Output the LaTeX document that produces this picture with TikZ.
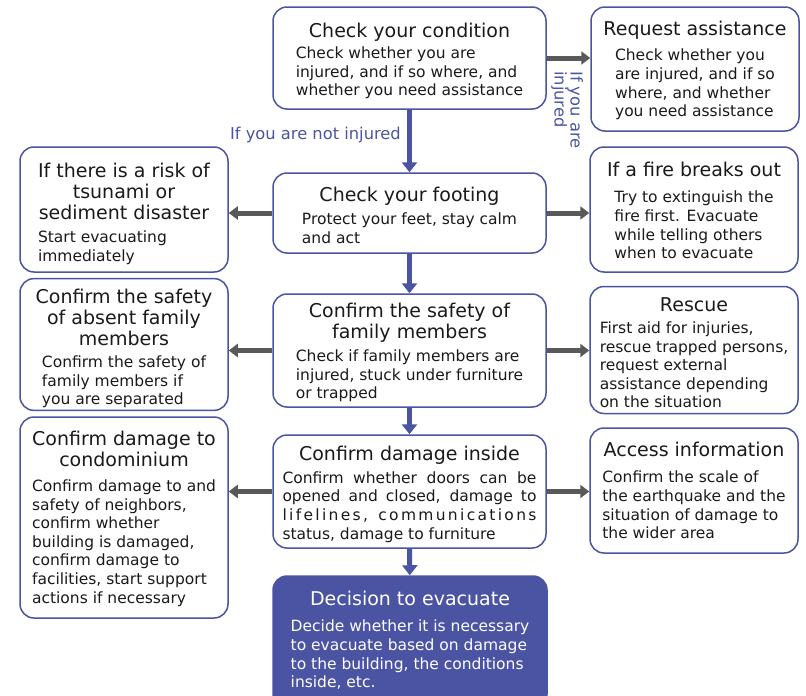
\documentclass[tikz,border=0pt]{standalone}
\usepackage{fontspec}
\setmainfont{DejaVu Sans}
\usetikzlibrary{arrows.meta}

\definecolor{flowblue}{HTML}{4A54A3}
\definecolor{arrowgray}{HTML}{595959}
\definecolor{textblack}{HTML}{1A1A1A}

\newcommand{\titlefont}{\fontsize{19}{21}\selectfont}
\newcommand{\bodyfont}{\fontsize{15.5}{18.6}\selectfont}
\newcommand{\boxtitle}[1]{{\titlefont\begin{tabular}{@{}c@{}}#1\end{tabular}}}
\newcommand{\boxbody}[1]{{\bodyfont\begin{tabular}{@{}l@{}}#1\end{tabular}}}
% #1 top pad, #2 title, #3 gap title/body, #4 body
\newcommand{\stepcontent}[4]{\boxtitle{\rule{0pt}{\dimexpr14.7pt+#1pt\relax}#2}\\[#3pt]\boxbody{#4}}

\tikzset{
  stepnode/.style={draw=flowblue, line width=1.5pt, rounded corners=14pt, fill=white,
    text=textblack, align=center, inner sep=0pt},
  mainbox/.style={stepnode, minimum width=273pt},
  sidebox/.style={stepnode, minimum width=208pt},
  flowarrow/.style={draw=flowblue, line width=5pt, -{Triangle[length=10pt,width=15pt]}},
  sidearrow/.style={draw=arrowgray, line width=5pt, -{Triangle[length=9pt,width=13pt]}},
  branchlabel/.style={text=flowblue, font=\fontsize{16.3}{18}\selectfont, inner sep=0pt}
}

\begin{document}
\begin{tikzpicture}[x=1pt, y=-1pt]

	\clip (0,0) rectangle (806,696);

	% centre column
	\node[mainbox, minimum height=102pt] (cond) at (409.5,58)
		{\stepcontent{8}{Check your condition}{1}
		 {Check whether you are\\injured, and if so where, and\\whether you need assistance}};
	\node[mainbox, minimum height=80pt] (foot) at (409.5,213)
		{\stepcontent{9.5}{Check your footing}{2.5}
		 {Protect your feet, stay calm\\and act}};
	\node[mainbox, minimum height=113pt] (family) at (409.5,350.5)
		{\stepcontent{6}{Confirm the safety of\\family members}{3}
		 {Check if family members are\\injured, stuck under furniture\\or trapped}};
	\node[mainbox, minimum height=113pt] (inside) at (409.5,491.5)
		{\stepcontent{7}{Confirm damage inside}{3}
		 {\makebox[254pt][s]{Confirm whether doors can be}\\
		  \makebox[254pt][s]{opened and closed, damage to}\\
		  \makebox[254pt][s]{\addfontfeatures{LetterSpace=15}lifelines, communications}\\
		  status, damage to furniture}};
	\node[mainbox, minimum width=274pt, minimum height=132pt, fill=flowblue, text=white] (evac) at (410,642)
		{\stepcontent{0}{Decision to evacuate}{6}
		 {Decide whether it is necessary\\to evacuate based on damage\\to the building, the conditions\\inside, etc.}};

	% left column
	\node[sidebox, minimum height=125pt] (tsunami) at (124,209.5)
		{\stepcontent{10}{If there is a risk of\\tsunami or\\sediment disaster}{3}
		 {\makebox[172pt][l]{Start evacuating}\\immediately}};
	\node[sidebox, minimum height=129pt] (absent) at (124,344.5)
		{\stepcontent{10}{Confirm the safety\\of absent family\\members}{2}
		 {Confirm the safety of\\family members if\\you are separated}};
	\node[sidebox, minimum height=201pt] (condo) at (124,517.5)
		{\stepcontent{4.5}{Confirm damage to\\condominium}{4.5}
		 {Confirm damage to and\\safety of neighbors,\\confirm whether\\building is damaged,\\confirm damage to\\facilities, start support\\actions if necessary}};

	% right column
	\node[sidebox, minimum height=124pt] (request) at (695,69)
		{\stepcontent{5}{Request assistance}{5}
		 {Check whether you\\are injured, and if so\\where, and whether\\you need assistance}};
	\node[sidebox, minimum height=125pt] (fire) at (694,209.5)
		{\stepcontent{6.5}{If a fire breaks out}{6.5}
		 {Try to extinguish the\\fire first. Evacuate\\while telling others\\when to evacuate}};
	\node[sidebox, minimum height=126pt] (rescue) at (694,350)
		{\stepcontent{10}{Rescue}{2}
		 {First aid for injuries,\\rescue trapped persons,\\request external\\assistance depending\\on the situation}};
	\node[sidebox, minimum height=125pt] (info) at (694,490.5)
		{\stepcontent{4.5}{Access information}{6.5}
		 {Confirm the scale of\\the earthquake and the\\situation of damage to\\the wider area}};

	% main flow
	\draw[flowarrow] (cond) -- (foot);
	\draw[flowarrow] (foot) -- (family);
	\draw[flowarrow] (family) -- (inside);
	\draw[flowarrow] (inside) -- (evac);

	% side branches
	\draw[sidearrow] (cond.east) -- (cond.east -| request.west);
	\draw[sidearrow] (foot.west) -- (foot.west -| tsunami.east);
	\draw[sidearrow] (foot.east) -- (foot.east -| fire.west);
	\draw[sidearrow] (family.west) -- (family.west -| absent.east);
	\draw[sidearrow] (family.east) -- (family.east -| rescue.west);
	\draw[sidearrow] (inside.west) -- (inside.west -| condo.east);
	\draw[sidearrow] (inside.east) -- (inside.east -| info.west);

	\node[branchlabel, anchor=east] (notinjured) at (401,135) {If you are not injured};
	\node[branchlabel, rotate=-90, anchor=west, align=left] (injured) at (567,71)
		{If you are\\[-2pt]injured};

\end{tikzpicture}
\end{document}
